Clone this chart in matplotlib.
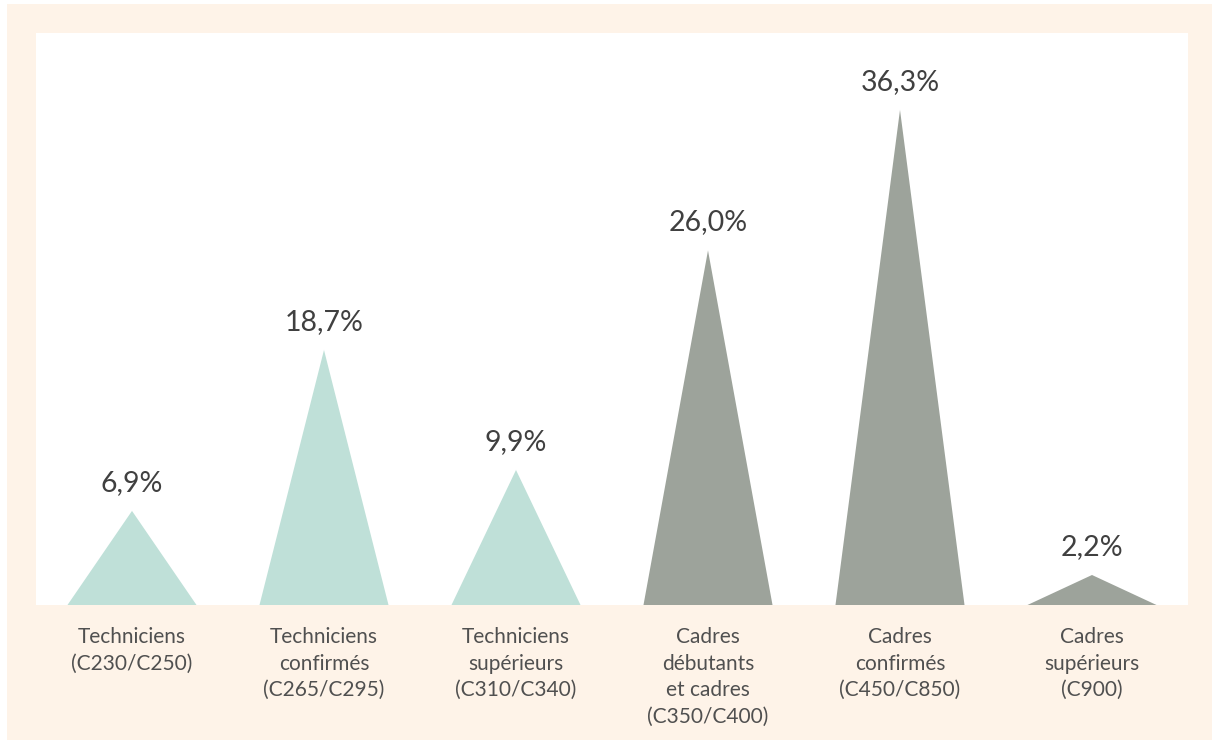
import matplotlib
matplotlib.use("Agg")
import matplotlib.pyplot as plt
from matplotlib.patches import Polygon, Rectangle

categories = ["Techniciens\n(C230/C250)", "Techniciens\nconfirmés\n(C265/C295)",
              "Techniciens\nsupérieurs\n(C310/C340)", "Cadres\ndébutants\net cadres\n(C350/C400)",
              "Cadres\nconfirmés\n(C450/C850)", "Cadres\nsupérieurs\n(C900)"]
values = [6.9, 18.7, 9.9, 26.0, 36.3, 2.2]
value_labels = ["6,9%", "18,7%", "9,9%", "26,0%", "36,3%", "2,2%"]
colors = ["#BFE0D8", "#BFE0D8", "#BFE0D8", "#9DA39B", "#9DA39B", "#9DA39B"]

plt.rcParams['font.family'] = ['Lato', 'DejaVu Sans']

W, H = 1212, 740
fig = plt.figure(figsize=(W/100, H/100), dpi=100, facecolor="white")
fig.patches.append(Rectangle((7/W, 0), 1 - 7/W, 1 - 4/H, transform=fig.transFigure,
                             facecolor="#FEF3E8", edgecolor="none", zorder=-10))

ax = fig.add_axes([36/W, (H-605)/H, 1152/W, 572/H])
ax.set_facecolor("white")
half = 0.336
for i, (v, c) in enumerate(zip(values, colors)):
    ax.add_patch(Polygon([(i-half, 0), (i, v), (i+half, 0)], closed=True,
                         facecolor=c, edgecolor="none"))
    ax.annotate(value_labels[i], (i, v), xytext=(0, 28), textcoords="offset pixels",
                ha="center", va="center", fontsize=20.5, color="#404040")

ax.set_xlim(-0.5, 5.5)
ax.set_ylim(0, 41.94)
ax.set_yticks([])
ax.set_xticks(range(len(categories)))
ax.set_xticklabels(categories, fontsize=15, color="#505050", linespacing=1.4, va="top")
ax.tick_params(axis="x", length=0, pad=16)
for s in ax.spines.values():
    s.set_visible(False)

fig.savefig("out.png", dpi=100, facecolor=fig.get_facecolor())
